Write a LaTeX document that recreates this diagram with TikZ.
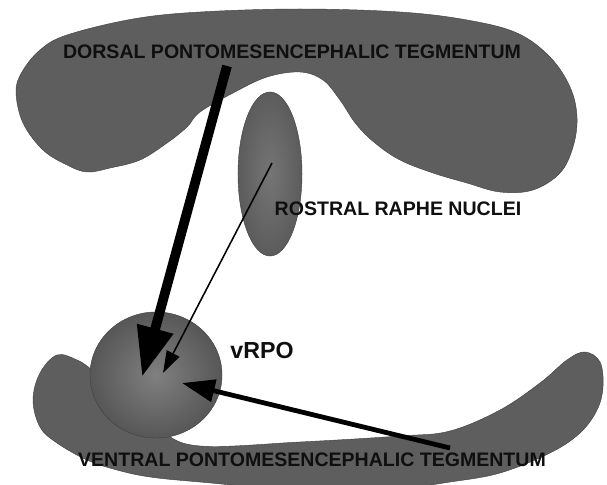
\documentclass[tikz,border=0pt]{standalone}
\usepackage{fontspec}
\setmainfont{Liberation Sans}
\usetikzlibrary{arrows.meta, shapes.geometric}
\definecolor{tissue}{RGB}{94,94,94}
\definecolor{inktext}{RGB}{15,15,15}
\tikzstyle{region} = [fill=tissue, draw=black!75, line width=0.3pt]
\tikzstyle{nucleus} = [ellipse, draw=black!75, line width=0.3pt, shading=radial, inner color=black!54, outer color=black!64]
\tikzstyle{areatext} = [font=\bfseries\fontsize{13.9}{16}\selectfont, text=inktext, inner sep=0pt]
\tikzstyle{bigarrow} = [line width=6.9pt, -{Triangle[length=1.25cm, width=0.875cm]}]
\tikzstyle{midarrow} = [line width=3.4pt, -{Triangle[length=0.82cm, width=0.55cm]}]
\tikzstyle{thinarrow} = [line width=1.1pt, -{Triangle[length=0.55cm, width=0.35cm]}]

\begin{document}
\begin{tikzpicture}[x=0.025cm, y=-0.025cm]
\useasboundingbox (0,0) rectangle (607,485);
\fill[white] (0,0) rectangle (607,485);

% Regions
\draw[region] plot[smooth cycle, tension=0.6] coordinates {(16,92) (22,72) (40,50) (67,35) (133,19) (200,12) (300,9) (400,12) (467,20) (517,33) (550,57) (570,87) (577,117) (573,147) (560,173) (533,190) (500,192) (467,183) (433,173) (400,160) (375,143) (356,124) (340,100) (323,80) (300,72) (267,77) (233,93) (200,112) (187,127) (167,143) (140,160) (110,168) (87,172) (67,165) (43,150) (23,123)};

\node (raphe) [nucleus, minimum width=1.6cm, minimum height=4.1cm] at (270,174) {};

\draw[region] plot[smooth cycle, tension=0.6] coordinates {(57,355) (77,360) (92,370) (120,395) (160,430) (200,446) (300,442) (400,436) (450,431) (500,410) (540,383) (567,360) (585,352) (600,362) (603,387) (597,410) (580,433) (550,453) (500,473) (450,482) (400,488) (300,490) (200,482) (150,477) (117,470) (87,460) (57,443) (40,427) (33,400) (40,373)};

\node (vrpo) [nucleus, minimum width=3.3cm, minimum height=3.15cm, inner color=black!50, outer color=black!66] at (156,375) {};

% Arrow ends
\coordinate (dpt-src) at (227,66);
\coordinate (rrn-src) at (272,163);
\coordinate (vpt-src) at (450,448);
\coordinate (vrpo-a) at (142,377);
\coordinate (vrpo-b) at (163,373);
\coordinate (vrpo-c) at (182,383);

% Labels
\node (dpt) [areatext] at (292,52) {DORSAL PONTOMESENCEPHALIC TEGMENTUM};
\node (rrn) [areatext] at (398,209) {ROSTRAL RAPHE NUCLEI};
\node (vrpotext) [areatext, font=\bfseries\fontsize{16.5}{18}\selectfont] at (262,351) {vRPO};
\node (vpt) [areatext] at (312,460) {VENTRAL PONTOMESENCEPHALIC TEGMENTUM};

% Connections
\draw [bigarrow] (dpt-src) -- (vrpo-a);
\draw [thinarrow] (rrn-src) -- (vrpo-b);
\draw [midarrow] (vpt-src) -- (vrpo-c);

\end{tikzpicture}
\end{document}
